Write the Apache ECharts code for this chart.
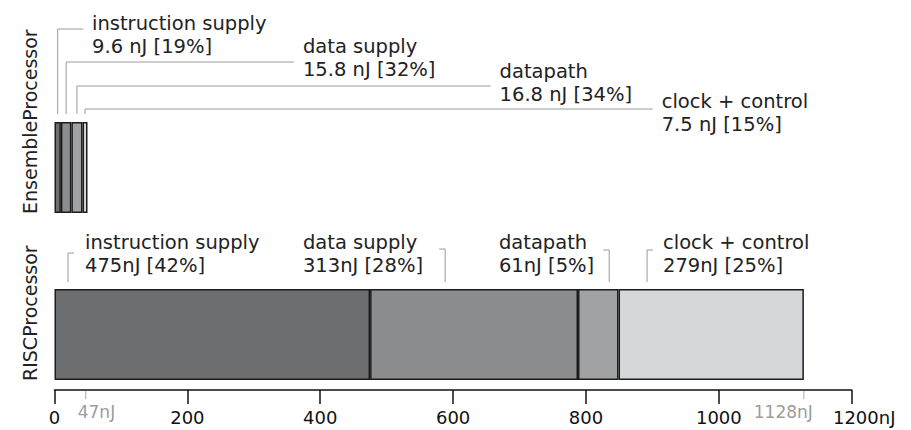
<!DOCTYPE html>
<html><head><meta charset="utf-8">
<script src="https://cdn.jsdelivr.net/npm/echarts@6/dist/echarts.min.js"></script>
<style>html,body{margin:0;padding:0;background:#fff}#c{width:911px;height:430px}</style>
</head><body><div id="c"></div>
<script>
// ---------- data ----------
const processors = ['EnsembleProcessor', 'RISCProcessor'];
const components = ['instruction supply', 'data supply', 'datapath', 'clock + control'];
const ensembleEnergy = [9.6, 15.8, 16.8, 7.5];
const ensemblePct = [19, 32, 34, 15];
const riscEnergy = [475, 313, 61, 279];
const riscPct = [42, 28, 5, 25];
const totalMarks = [47, 1128];
const xMin = 0, xMax = 1200, xStep = 200;

// ---------- styles / layout ----------
const FONT = '"DejaVu Sans", "Noto Sans", sans-serif';
const LABEL_FONT = '19.5px ' + FONT;
const LINE_H = 23.5;
const segColors = ['#6c6e70', '#8b8d8f', '#a0a2a4', '#d5d8da'];
const border = '#1c1c1c';
const leader = '#9a9a9a';
const textCol = '#222222';
// ensemble labels: text start (in nJ on the axis), leader level & first line centre (px from bar top)
const ensLayout = [
  {at: 56.5, level: -93, line1: -99},
  {at: 374, level: -60, line1: -76},
  {at: 670, level: -36, line1: -51},
  {at: 914, level: -13, line1: -21}
];
// risc labels: text start (nJ), bracket position (nJ), hook direction
const riscLayout = [
  {at: 46, br: 20.3, hook: 1, brTop: -36},
  {at: 374, br: 588, hook: -1, brTop: -40},
  {at: 669, br: 835, hook: -1, brTop: -39},
  {at: 916, br: 892, hook: 1, brTop: -39}
];

function cumulate(arr) {
  let s = 0;
  return arr.map(v => { const a = s; s += v; return [a, s]; });
}
const ensSegs = cumulate(ensembleEnergy);
const riscSegs = cumulate(riscEnergy);

function nameText(api, top, h, name) {
  const x0 = api.coord([xMin, 0])[0];
  return {
    type: 'text', x: x0 - 25, y: top + h + 1, rotation: Math.PI / 2,
    style: {text: name, font: '19px ' + FONT, fill: textCol, align: 'left', verticalAlign: 'middle'}
  };
}

function twoLines(x, yFirstCentre, l1, l2) {
  return [
    {type: 'text', x, y: yFirstCentre, style: {text: l1, font: LABEL_FONT, fill: textCol, align: 'left', verticalAlign: 'middle'}},
    {type: 'text', x, y: yFirstCentre + LINE_H, style: {text: l2, font: LABEL_FONT, fill: textCol, align: 'left', verticalAlign: 'middle'}}
  ];
}

function ensRender(params, api) {
  const i = params.dataIndex;
  const s = api.value(0), e = api.value(1);
  const c = api.coord([(s + e) / 2, 0]);
  const h = api.size([0, 1])[1];
  const top = c[1] - h / 2;
  const L = ensLayout[i];
  const lx = api.coord([L.at, 0])[0];
  const ly = top + L.level;
  const ch = [
    {type: 'polyline', shape: {points: [[c[0], top - 8], [c[0], ly], [lx - 9, ly]]},
      style: {stroke: leader, lineWidth: 1, fill: null}}
  ].concat(twoLines(lx, top + L.line1, components[i], ensembleEnergy[i] + ' nJ [' + ensemblePct[i] + '%]'));
  if (i === 0) ch.push(nameText(api, top, h, processors[0]));
  return {type: 'group', children: ch};
}

function riscRender(params, api) {
  const i = params.dataIndex;
  const c = api.coord([api.value(0), 0]);
  const h = api.size([0, 1])[1];
  const top = c[1] - h / 2;
  const L = riscLayout[i];
  const lx = api.coord([L.at, 0])[0];
  const bx = api.coord([L.br, 0])[0];
  const ch = [
    {type: 'polyline', shape: {points: [[bx + L.hook * 6, top + L.brTop], [bx, top + L.brTop], [bx, top - 7]]},
      style: {stroke: leader, lineWidth: 1, fill: null}}
  ].concat(twoLines(lx, top - 47, components[i], riscEnergy[i] + 'nJ [' + riscPct[i] + '%]'));
  if (i === 0) ch.push(nameText(api, top, h, processors[1]));
  return {type: 'group', children: ch};
}

function totalRender(params, api) {
  const i = params.dataIndex;
  const v = api.value(0);
  const c = api.coord([v, 0]);
  const h = api.size([0, 1])[1];
  const axisY = c[1] + h / 2 + 10;
  return {type: 'group', children: [
    {type: 'line', shape: {x1: c[0], y1: axisY + 1, x2: c[0], y2: axisY + 9}, style: {stroke: '#a8a8a8', lineWidth: 1}},
    {type: 'text', x: i === 0 ? c[0] - 8 : c[0] + 9, y: axisY + 22,
      style: {text: v + 'nJ', font: '17px ' + FONT, fill: '#9c9c9c', align: i === 0 ? 'left' : 'right', verticalAlign: 'middle'}}
  ]};
}

const gridL = 54.5, gridR = 59.3;
const series = [];
components.forEach((name, k) => {
  series.push({type: 'bar', name, stack: 'ens', xAxisIndex: 0, yAxisIndex: 0, barCategoryGap: '0%',
    data: [ensembleEnergy[k]], itemStyle: {color: segColors[k], borderColor: border, borderWidth: 1.5}, silent: true});
});
components.forEach((name, k) => {
  series.push({type: 'bar', name, stack: 'risc', xAxisIndex: 1, yAxisIndex: 1, barCategoryGap: '0%',
    data: [riscEnergy[k]], itemStyle: {color: segColors[k], borderColor: border, borderWidth: 1.5}, silent: true});
});
series.push({type: 'custom', xAxisIndex: 0, yAxisIndex: 0, clip: false, silent: true, z: 5,
  renderItem: ensRender, data: ensSegs});
series.push({type: 'custom', xAxisIndex: 1, yAxisIndex: 1, clip: false, silent: true, z: 5,
  renderItem: riscRender, data: riscSegs.map(s => [s[0], s[1]])});
series.push({type: 'custom', xAxisIndex: 1, yAxisIndex: 1, clip: false, silent: true, z: 5,
  renderItem: totalRender, data: totalMarks.map(v => [v])});

const chart = echarts.init(document.getElementById('c'), null, {renderer: 'svg'});
chart.setOption({
  animation: false,
  backgroundColor: '#fff',
  grid: [
    {left: gridL, right: gridR, top: 122, height: 91},
    {left: gridL, right: gridR, top: 289, height: 91}
  ],
  xAxis: [
    {type: 'value', gridIndex: 0, min: xMin, max: xMax, interval: xStep, show: false},
    {type: 'value', gridIndex: 1, min: xMin, max: xMax, interval: xStep, offset: 10,
      splitLine: {show: false},
      axisLine: {show: true, lineStyle: {color: '#111', width: 1.5}},
      axisTick: {show: true, length: 14, lineStyle: {color: '#111', width: 1.5}},
      axisLabel: {margin: 18, color: '#111', fontSize: 18, fontFamily: FONT,
        formatter: v => v === xMax ? '{a|' + v + '}{b|nJ}' : String(v),
        rich: {a: {fontSize: 18, fontFamily: FONT, color: '#111', padding: [0, 0, 0, 25]},
               b: {fontSize: 18, fontFamily: FONT, color: '#111'}}}}
  ],
  yAxis: [
    {type: 'category', gridIndex: 0, data: [processors[0]], show: false},
    {type: 'category', gridIndex: 1, data: [processors[1]], show: false}
  ],
  series
});
</script>
</body></html>
